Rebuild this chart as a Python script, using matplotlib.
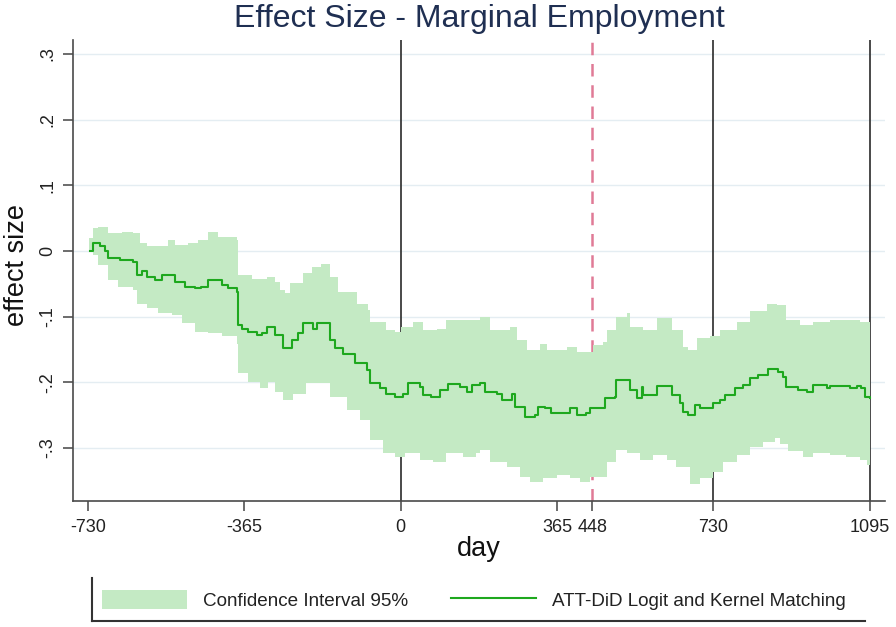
import matplotlib
matplotlib.use("Agg")
import matplotlib.pyplot as plt
from matplotlib.patches import Patch
from matplotlib.lines import Line2D
import numpy as np

plt.rcParams['font.family'] = ['Liberation Sans', 'DejaVu Sans']

# ---- data ----
est_day = [-726, -718, -702, -690, -683, -655, -624, -616, -605, -593, -574, -558, -535, -527,
           -504, -480, -465, -449, -418, -402, -383, -379, -371, -356, -336, -324, -313, -293,
           -274, -266, -254, -239, -227, -204, -196, -177, -165, -153, -134, -107, -79, -72,
           -48, -33, -13, 6, 18, 45, 53, 72, 92, 111, 138, 154, 166, 185, 197, 224, 236, 259,
           267, 290, 314, 321, 337, 352, 380, 395, 411, 434, 442, 473, 477, 500, 504, 531,
           535, 551, 563, 566, 594, 598, 625, 633, 652, 660, 671, 687, 699, 718, 730, 745,
           757, 780, 800, 815, 835, 858, 882, 893, 901, 928, 948, 963, 995, 1002, 1033, 1049,
           1065, 1076, 1084, 1095]
est_val = [0.000, 0.012, 0.007, 0.000, -0.011, -0.014, -0.016, -0.037, -0.031, -0.039, -0.044,
           -0.037, -0.037, -0.047, -0.054, -0.057, -0.054, -0.044, -0.052, -0.057, -0.062,
           -0.113, -0.118, -0.123, -0.128, -0.125, -0.115, -0.128, -0.148, -0.148, -0.135,
           -0.125, -0.110, -0.118, -0.109, -0.109, -0.135, -0.148, -0.156, -0.171, -0.181,
           -0.201, -0.209, -0.217, -0.222, -0.217, -0.201, -0.207, -0.219, -0.222, -0.212,
           -0.202, -0.207, -0.214, -0.204, -0.201, -0.214, -0.217, -0.227, -0.217, -0.237,
           -0.252, -0.250, -0.237, -0.239, -0.247, -0.247, -0.239, -0.250, -0.247, -0.239,
           -0.239, -0.224, -0.222, -0.196, -0.196, -0.212, -0.224, -0.207, -0.219, -0.219,
           -0.205, -0.205, -0.219, -0.232, -0.245, -0.250, -0.234, -0.239, -0.239, -0.232,
           -0.227, -0.219, -0.209, -0.204, -0.194, -0.189, -0.180, -0.184, -0.191, -0.207,
           -0.212, -0.214, -0.204, -0.209, -0.205, -0.205, -0.209, -0.205, -0.209, -0.222,
           -0.224]

up_day = [-728, -718, -706, -683, -651, -624, -609, -593, -558, -543, -527, -496, -473, -449,
          -426, -383, -379, -348, -313, -294, -281, -270, -258, -227, -208, -185, -165, -146,
          -103, -76, -72, -33, -13, 2, 29, 53, 84, 107, 154, 185, 209, 255, 271, 294, 325,
          341, 388, 411, 450, 473, 481, 504, 528, 535, 566, 598, 625, 633, 660, 672, 691,
          722, 746, 785, 816, 855, 878, 901, 932, 963, 1002, 1041, 1072, 1095]
up_val = [0.020, 0.035, 0.037, 0.027, 0.029, 0.027, 0.012, 0.007, 0.007, 0.017, 0.009, 0.012,
          0.017, 0.029, 0.022, 0.017, -0.037, -0.042, -0.039, -0.047, -0.059, -0.064, -0.049,
          -0.034, -0.024, -0.019, -0.039, -0.062, -0.080, -0.090, -0.108, -0.120, -0.123,
          -0.115, -0.108, -0.120, -0.118, -0.105, -0.105, -0.100, -0.120, -0.115, -0.135,
          -0.151, -0.141, -0.151, -0.146, -0.153, -0.143, -0.138, -0.120, -0.100, -0.095,
          -0.115, -0.120, -0.102, -0.102, -0.120, -0.146, -0.151, -0.133, -0.130, -0.120,
          -0.108, -0.092, -0.080, -0.082, -0.105, -0.113, -0.108, -0.105, -0.105, -0.108,
          -0.118]

lo_day = [-728, -718, -706, -683, -659, -624, -616, -593, -566, -535, -511, -480, -449, -418,
          -383, -379, -356, -329, -309, -294, -274, -251, -220, -196, -165, -126, -95, -72,
          -41, -13, 10, 45, 76, 107, 146, 177, 185, 209, 248, 279, 302, 333, 364, 395, 419,
          442, 481, 504, 528, 559, 590, 621, 644, 676, 699, 730, 753, 785, 816, 847, 874,
          886, 905, 940, 963, 1002, 1041, 1072, 1088, 1095]
lo_val = [0.000, -0.006, -0.021, -0.044, -0.054, -0.059, -0.080, -0.087, -0.095, -0.097,
          -0.110, -0.123, -0.125, -0.130, -0.141, -0.186, -0.199, -0.209, -0.199, -0.214,
          -0.227, -0.217, -0.201, -0.201, -0.222, -0.242, -0.257, -0.288, -0.308, -0.313,
          -0.308, -0.318, -0.321, -0.308, -0.313, -0.308, -0.303, -0.321, -0.328, -0.344,
          -0.351, -0.346, -0.341, -0.346, -0.351, -0.344, -0.321, -0.303, -0.308, -0.318,
          -0.310, -0.318, -0.328, -0.354, -0.346, -0.336, -0.321, -0.310, -0.298, -0.290,
          -0.285, -0.293, -0.305, -0.313, -0.308, -0.310, -0.313, -0.318, -0.326, -0.333]

x_ticks = [-730, -365, 0, 365, 448, 730, 1095]
y_ticks = [-0.3, -0.2, -0.1, 0.0, 0.1, 0.2, 0.3]
y_ticklabels = ['-.3', '-.2', '-.1', '0', '.1', '.2', '.3']
ref_solid = [0, 730, 1095]
ref_dashed = 448

title = 'Effect Size - Marginal Employment'
xlabel = 'day'
ylabel = 'effect size'
legend_labels = ['Confidence Interval 95%', 'ATT-DiD Logit and Kernel Matching']

BAND = '#c4eac4'
LINE = '#1ea81e'


def step_path(xs, ys):
    px, py = [], []
    for i in range(len(xs) - 1):
        px += [xs[i], xs[i + 1]]
        py += [ys[i], ys[i]]
    px.append(xs[-1])
    py.append(ys[-1])
    return px, py


fig = plt.figure(figsize=(8.96, 6.27), dpi=100)
ax = fig.add_axes([73 / 896, 1 - 501 / 627, (885 - 73) / 896, (501 - 40) / 627])

ax.set_xlim(-765, 1131)
ax.set_ylim(-0.3805, 0.3213)

# grid
for yv in y_ticks:
    ax.axhline(yv, color='#e4edf2', lw=1.0, zorder=0.5)

# reference lines (behind band)
for xv in ref_solid:
    ax.axvline(xv, color='#3a3a3a', lw=1.3, zorder=1)
ax.axvline(ref_dashed, color='#e07a96', lw=1.8, ls=(0, (5, 3.5)), zorder=1)

# CI band
ux, uy = step_path(up_day, up_val)
lx, ly = step_path(lo_day, lo_val)
ax.fill(ux + lx[::-1], uy + ly[::-1], color=BAND, lw=0, zorder=2)

# estimate line
ax.step(est_day, est_val, where='post', color=LINE, lw=1.5, zorder=3)

ax.set_xticks(x_ticks)
ax.set_xticklabels([str(v) for v in x_ticks])
ax.set_yticks(y_ticks)
ax.set_yticklabels(y_ticklabels)
ax.tick_params(axis='both', direction='out', length=7, width=1.1, color='#444444',
               labelsize=13, labelcolor='#222222')
ax.tick_params(axis='x', pad=6)
ax.tick_params(axis='y', pad=5)
for lab in ax.get_yticklabels():
    lab.set_rotation(90)
    lab.set_va('center')

for s in ['top', 'right']:
    ax.spines[s].set_visible(False)
for s in ['left', 'bottom']:
    ax.spines[s].set_color('#4a4a4a')
    ax.spines[s].set_linewidth(1.2)

fig.text(479 / 896, 1 - 19 / 627, title, ha='center', va='center', fontsize=23,
         color='#1f2f52')
fig.text(479 / 896, 1 - 549 / 627, xlabel, ha='center', va='center', fontsize=19.5,
         color='#111111')
fig.text(17 / 896, 1 - 265 / 627, ylabel, ha='center', va='center', fontsize=19.5,
         rotation=90, color='#111111')

handles = [Patch(facecolor=BAND, edgecolor='none'), Line2D([], [], color=LINE, lw=1.5)]
leg = ax.legend(handles, legend_labels, loc='center left',
                bbox_to_anchor=(102 / 896, 1 - 600 / 627), bbox_transform=fig.transFigure,
                ncol=2, frameon=False, fontsize=13.6, handlelength=4.5, handleheight=1.2,
                handletextpad=0.86, columnspacing=2.27, borderpad=0, borderaxespad=0)
for t in leg.get_texts():
    t.set_color('#222222')

fig.add_artist(Line2D([92 / 896, 92 / 896], [1 - 578 / 627, 1 - 621 / 627],
                      transform=fig.transFigure, color='#333333', lw=1.5))
fig.add_artist(Line2D([92 / 896, 865 / 896], [1 - 621 / 627, 1 - 621 / 627],
                      transform=fig.transFigure, color='#333333', lw=1.5))

fig.savefig('out.png', dpi=100)
